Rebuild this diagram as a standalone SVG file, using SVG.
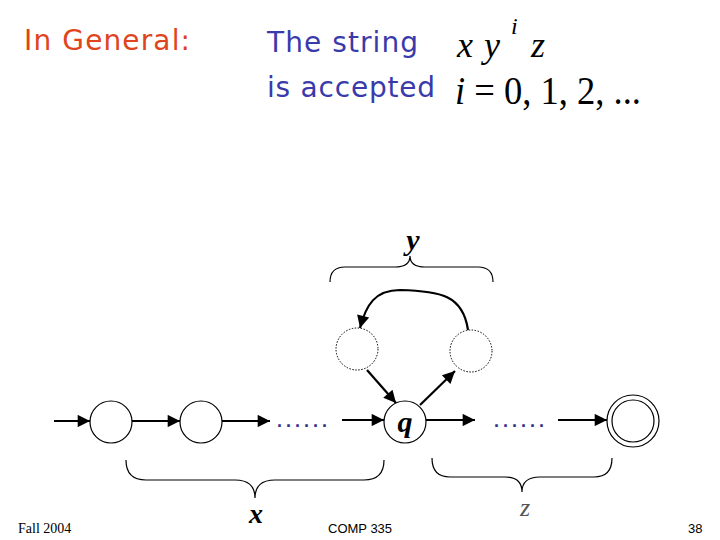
<svg xmlns="http://www.w3.org/2000/svg" width="720" height="540" viewBox="0 0 720 540">
<style>
.node{fill:#fff;stroke:#000;stroke-width:1.2}
.dotted{fill:#fff;stroke:#000;stroke-width:1;stroke-dasharray:1.5 1.5}
.edge{fill:none;stroke:#000;stroke-width:2.2}
.brace{fill:none;stroke:#000;stroke-width:1.2}
.title{font-family:"Comic Sans MS","DejaVu Sans",sans-serif;font-size:28px}
.math{font-family:"Liberation Serif","Times New Roman",serif;font-style:italic}
.foot{font-family:"Liberation Sans",Arial,sans-serif;font-size:13px;fill:#000}
.dots{font-family:"Liberation Sans",Arial,sans-serif;font-size:18px;font-weight:bold;fill:#333388;letter-spacing:4px}
</style>
<defs>
<marker id="ah" viewBox="0 0 10 10" refX="10" refY="5" markerWidth="7" markerHeight="5.6" markerUnits="strokeWidth" orient="auto">
<path d="M0 0 L10 5 L0 10 Z" fill="#000"/>
</marker>
</defs>
<rect width="720" height="540" fill="#fff"/>
<g id="header">
<text class="title" x="24" y="50" fill="#e0441c" textLength="166">In General:</text>
<text class="title" x="267" y="52" fill="#3a3aaa" textLength="151">The string</text>
<text class="title" x="267" y="97" fill="#3a3aaa" textLength="168">is accepted</text>
<text class="math" x="457" y="57" font-size="36">x</text>
<text class="math" x="484" y="57" font-size="36">y</text>
<text class="math" x="511" y="34" font-size="24">i</text>
<text class="math" x="531" y="57" font-size="36">z</text>
<text x="455" y="104" font-size="40" font-family="'Liberation Serif','Times New Roman',serif" textLength="186" lengthAdjust="spacingAndGlyphs"><tspan font-style="italic">i</tspan> = 0, 1, 2, ...</text>
</g>
<g id="connectors">
<line class="edge" x1="54" y1="421" x2="90" y2="421" marker-end="url(#ah)"/>
<line class="edge" x1="132" y1="421" x2="180" y2="421" marker-end="url(#ah)"/>
<line class="edge" x1="222" y1="421" x2="270" y2="421" marker-end="url(#ah)"/>
<line class="edge" x1="342" y1="420" x2="384" y2="420" marker-end="url(#ah)"/>
<line class="edge" x1="426" y1="420" x2="475" y2="420" marker-end="url(#ah)"/>
<line class="edge" x1="558" y1="420" x2="607" y2="420" marker-end="url(#ah)"/>
<line class="edge" x1="367" y1="370" x2="396" y2="403" marker-end="url(#ah)"/>
<line class="edge" x1="420" y1="405" x2="455" y2="371" marker-end="url(#ah)"/>
<path class="edge" d="M468 330 C463 295 440 291 400 290 C375 290 366 305 360 328" marker-end="url(#ah)"/>
</g>
<g id="n1"><circle class="node" cx="111" cy="422" r="21"/></g>
<g id="n2"><circle class="node" cx="201" cy="422" r="21"/></g>
<g id="dots1"><text class="dots" x="277" y="427">......</text></g>
<g id="q"><circle class="node" cx="405" cy="422" r="21"/>
<text class="math" x="405" y="432" font-size="30" font-weight="bold" text-anchor="middle">q</text></g>
<g id="loop1"><circle class="dotted" cx="357" cy="349" r="21"/></g>
<g id="loop2"><circle class="dotted" cx="471" cy="351" r="21"/></g>
<g id="dots2"><text class="dots" x="494" y="427">......</text></g>
<g id="final"><circle class="node" cx="633" cy="421" r="26"/><circle class="node" cx="633" cy="421" r="21"/></g>
<g id="braces">
<path class="brace" d="M330 282 Q330 267 345 267 L395 267 Q410 267 410 256 Q410 267 425 267 L478 267 Q493 267 493 282"/>
<text class="math" x="413" y="250" font-size="30" font-weight="bold" text-anchor="middle">y</text>
<path class="brace" d="M126 460 Q126 480 146 480 L235 480 Q255 480 255 498 Q255 480 275 480 L364 480 Q384 480 384 460"/>
<text class="math" x="256" y="523" font-size="28" font-weight="bold" text-anchor="middle">x</text>
<path class="brace" d="M432 458 Q432 477 450 477 L505 477 Q522 477 522 492 Q522 477 540 477 L594 477 Q612 477 612 458"/>
<text class="math" x="525" y="516" font-size="26" fill="#555" text-anchor="middle">z</text>
</g>
<g id="footer">
<text x="18" y="533" font-family="'Liberation Serif','Times New Roman',serif" font-size="14">Fall 2004</text>
<text class="foot" x="328" y="533">COMP 335</text>
<text class="foot" x="688" y="533">38</text>
</g>
</svg>
